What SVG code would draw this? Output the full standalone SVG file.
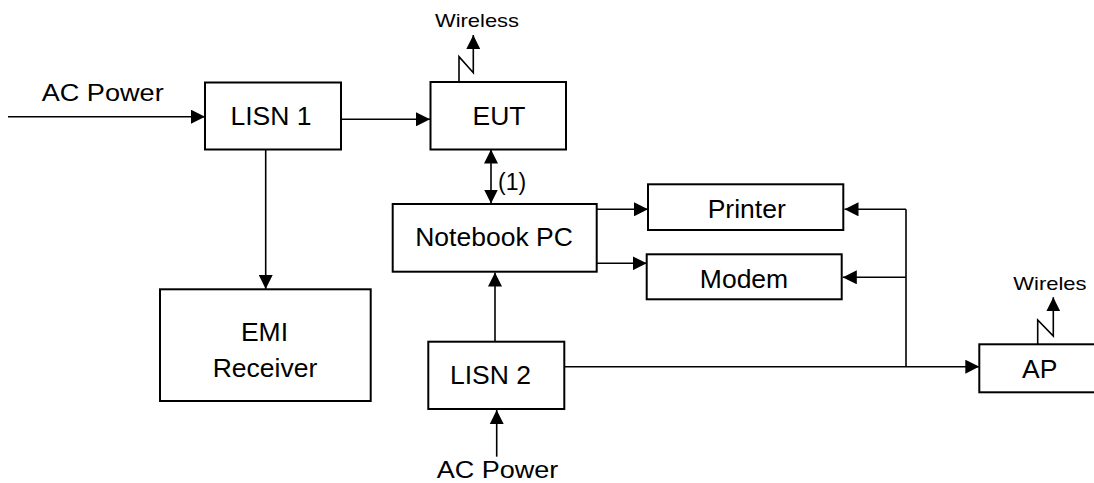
<svg xmlns="http://www.w3.org/2000/svg" width="1094" height="483" viewBox="0 0 1094 483">
<style>
.box{fill:#fff;stroke:#000;stroke-width:2}
.ln{fill:none;stroke:#000;stroke-width:1.6}
.t{font-family:"Liberation Sans",Arial,sans-serif;font-size:26.5px;fill:#000;text-anchor:middle}
.s{font-family:"Liberation Sans",Arial,sans-serif;fill:#000}
</style>
<defs>
<marker id="ah" viewBox="0 0 14 14" refX="14" refY="7" markerWidth="14" markerHeight="14" markerUnits="userSpaceOnUse" orient="auto-start-reverse">
<path d="M0,0 L14,7 L0,14 z" fill="#000"/>
</marker>
</defs>
<rect width="1094" height="483" fill="#fff"/>
<g id="connectors">
<path class="ln" d="M8,116.7 H205" marker-end="url(#ah)"/>
<path class="ln" d="M341,119.3 H430" marker-end="url(#ah)"/>
<path class="ln" d="M265.7,149.3 V289" marker-end="url(#ah)"/>
<path class="ln" d="M459,82 V56.7 L473.3,72.7 V35" marker-end="url(#ah)"/>
<path class="ln" d="M491,149.5 V203.5" marker-start="url(#ah)" marker-end="url(#ah)"/>
<path class="ln" d="M596.7,209.3 H648" marker-end="url(#ah)"/>
<path class="ln" d="M596.7,263.3 H646.7" marker-end="url(#ah)"/>
<path class="ln" d="M495,341.7 V272.5" marker-end="url(#ah)"/>
<path class="ln" d="M496.7,456.7 V410" marker-end="url(#ah)"/>
<path class="ln" d="M564.3,366.7 H979.3" marker-end="url(#ah)"/>
<path class="ln" d="M906,366.7 V209.3"/>
<path class="ln" d="M906,209.3 H844.5" marker-end="url(#ah)"/>
<path class="ln" d="M906,277.3 H842.8" marker-end="url(#ah)"/>
<path class="ln" d="M1037.7,344.3 V320 L1053.3,336 V297.3" marker-end="url(#ah)"/>
</g>
<g id="lisn1">
<rect class="box" x="205" y="82.5" width="136" height="67"/>
<text class="t" x="271" y="125">LISN 1</text>
</g>
<g id="eut">
<rect class="box" x="430.5" y="82" width="135.5" height="67.5"/>
<text class="t" x="499" y="125">EUT</text>
</g>
<g id="notebook">
<rect class="box" x="392.7" y="204" width="204" height="67.7"/>
<text class="t" x="494" y="245.7">Notebook PC</text>
</g>
<g id="printer">
<rect class="box" x="648" y="184.3" width="195.3" height="45.7"/>
<text class="t" x="746.7" y="218.3">Printer</text>
</g>
<g id="modem">
<rect class="box" x="646.7" y="254.3" width="195" height="45"/>
<text class="t" x="744" y="288.3">Modem</text>
</g>
<g id="emi">
<rect class="box" x="160" y="289.3" width="210.7" height="111.7"/>
<text class="t" x="264.5" y="340.7">EMI</text>
<text class="t" x="265" y="376.7">Receiver</text>
</g>
<g id="lisn2">
<rect class="box" x="428.3" y="341.7" width="136" height="67.3"/>
<text class="t" x="490.5" y="384">LISN 2</text>
</g>
<g id="ap">
<rect class="box" x="979.3" y="344.3" width="130" height="48"/>
<text class="t" x="1039.7" y="377.7">AP</text>
</g>
<g id="labels">
<text class="s" x="41.7" y="100.7" font-size="24" textLength="122" lengthAdjust="spacingAndGlyphs">AC Power</text>
<text class="s" x="436.7" y="478" font-size="24" textLength="121.7" lengthAdjust="spacingAndGlyphs">AC Power</text>
<text class="s" x="435" y="26.7" font-size="19" textLength="84" lengthAdjust="spacingAndGlyphs">Wireless</text>
<text class="s" x="1013.3" y="290" font-size="19" textLength="73.3" lengthAdjust="spacingAndGlyphs">Wireles</text>
<text class="s" x="498" y="190" font-size="23">(1)</text>
</g>
</svg>
